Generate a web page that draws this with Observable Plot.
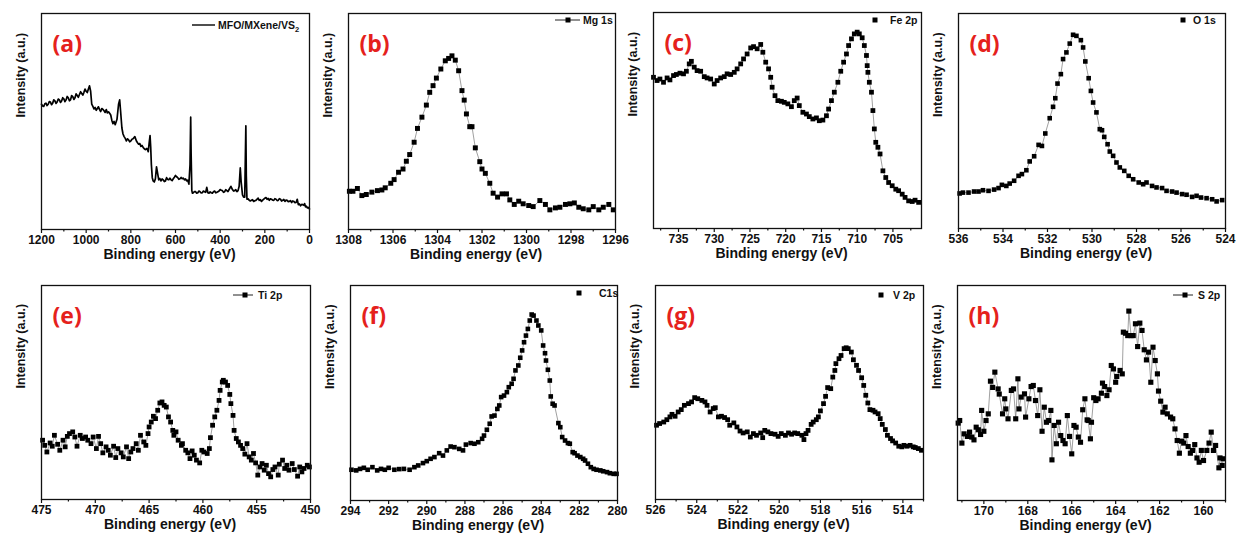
<!DOCTYPE html>
<html><head><meta charset="utf-8">
<script src="https://cdn.jsdelivr.net/npm/d3@7"></script>
<script src="https://cdn.jsdelivr.net/npm/@observablehq/plot@0.6"></script>
<style>
body{margin:0;background:#fff;}
#root{position:relative;width:1238px;height:540px;overflow:hidden;background:#fff;}
.panel{position:absolute;}
.panel svg{overflow:visible;}
</style></head><body><div id="root"></div>
<script>
// ---- data: [binding energy (eV), intensity (% of frame height)] ----
const survey = [[1200,58],[1195,57.2],[1190,57],[1185,58.2],[1180,58.5],[1175,57.4],[1170,58],[1165,59.2],[1160,59],[1155,57.8],[1150,58.5],[1145,60],[1140,59.5],[1135,58.4],[1130,59],[1125,60.4],[1120,60],[1115,58.8],[1110,59.5],[1105,61],[1100,60.5],[1095,59.2],[1090,60],[1085,61.6],[1080,61],[1075,59.6],[1070,60],[1065,62],[1060,61.5],[1055,60.2],[1050,61],[1045,62.8],[1040,62],[1035,61.2],[1030,62.5],[1025,63.8],[1020,63],[1015,62.2],[1010,63.5],[1005,65],[1000,64],[995,63.4],[990,65],[985,66.5],[980,64],[975,58],[970,57],[965,55.8],[960,56.5],[955,55.2],[950,56],[945,56.8],[940,55.5],[935,54.6],[930,56],[925,55.6],[920,55],[915,54.2],[910,55.5],[905,54],[900,54.5],[895,53.8],[890,53],[885,50.5],[880,49],[875,50],[870,48.5],[862,51],[855,58],[850,60],[846,55],[840,47],[835,44.2],[830,43],[825,42.2],[820,41],[815,42],[810,41.5],[805,40.6],[800,41],[795,41.8],[790,42],[782,43],[775,41],[770,40.2],[765,39.5],[760,39.8],[755,38.5],[750,38.9],[745,38],[740,37.4],[735,37],[728,37.5],[722,36],[718,40],[714,43.5],[711,38],[708,30],[704,24],[700,22.5],[695,22],[690,23.5],[685,29],[680,26],[675,23],[670,23.6],[665,22.5],[660,23.4],[655,23],[650,22.2],[645,22.5],[640,24],[635,23.2],[630,23],[625,23.8],[620,23],[615,22.6],[610,23.5],[605,24.2],[600,25],[595,24.4],[590,24],[585,23.2],[580,23.5],[575,24.1],[570,23.5],[565,23.8],[560,23],[555,23.4],[550,22.5],[545,22.8],[540,21],[535,30],[532,52],[530,35],[527,18],[524,16.8],[520,17],[515,17.6],[510,17.5],[505,16.8],[500,17],[495,17.8],[490,17.5],[485,16.9],[480,17],[475,17.8],[470,17.5],[465,17.2],[460,19.5],[455,17],[450,16.8],[445,17.4],[440,17],[435,16.8],[430,17.5],[425,17.8],[420,17],[415,17.2],[410,17.5],[405,17.8],[400,18.5],[395,18.2],[390,18],[385,17.2],[380,17.5],[375,18.4],[370,18],[365,17.6],[360,18.5],[352,20],[345,18.5],[340,17.8],[335,18],[330,18.4],[325,17.5],[320,18],[315,20],[310,28.5],[306,22],[300,16],[295,15],[290,15],[287,35],[285,48],[283,25],[280,14],[275,14.2],[270,13.5],[265,13.2],[260,13.5],[255,13.8],[250,13],[245,13.3],[240,13.5],[230,14.5],[225,13.5],[220,13.8],[215,13],[210,13.6],[205,14],[200,14.5],[195,14.8],[190,14],[185,14.4],[180,13.5],[175,14.2],[170,14],[165,13.6],[160,13.5],[155,14.3],[150,14],[145,13.4],[140,13.5],[135,14.3],[130,14],[125,13.2],[120,13.5],[115,13.9],[110,13],[105,13.6],[100,13.5],[95,12.9],[90,13],[85,13.4],[80,12.5],[75,13.2],[70,13],[65,12.4],[60,12.5],[55,14],[50,11.5],[45,11.8],[40,11],[35,11.6],[30,11.5],[25,11.2],[22,12],[18,10.5],[14,10.8],[10,10],[5,10.2],[0,9.5]];

const mg1s = [[1307.96,17.7],[1307.8,17.7],[1307.6,19],[1307.4,15.7],[1307.2,16.2],[1306.95,17.3],[1306.7,18],[1306.5,18.3],[1306.35,19.3],[1306.1,21.4],[1305.95,23.1],[1305.75,26.5],[1305.55,28],[1305.4,31.6],[1305.25,34.7],[1305.05,40.4],[1304.9,46.8],[1304.7,52],[1304.5,57.6],[1304.35,63.5],[1304.2,66.6],[1304.05,70.1],[1303.85,74.3],[1303.65,78.1],[1303.5,79.2],[1303.35,80.4],[1303.2,78.4],[1303.05,73.5],[1302.9,64.3],[1302.8,59.9],[1302.7,53.5],[1302.55,47.6],[1302.45,47.6],[1302.3,37.8],[1302.1,31.4],[1302,28],[1301.85,26],[1301.65,21.4],[1301.5,16.8],[1301.3,15],[1301.1,16.5],[1300.9,16.5],[1300.75,13.7],[1300.55,11.6],[1300.35,13.1],[1300.15,11.9],[1299.9,11.1],[1299.7,10.6],[1299.4,13.4],[1299.15,11.6],[1298.95,9.1],[1298.7,10],[1298.5,10.3],[1298.25,11.6],[1298.05,11.9],[1297.85,12.3],[1297.65,10.3],[1297.45,9.6],[1297.2,9.1],[1297,10.6],[1296.75,9.1],[1296.55,10.3],[1296.3,11.6],[1296.1,9.1]];

const fe2p = [[738.5,70],[738.0,68.5],[737.6,69.2],[737.1,67.7],[736.6,69.7],[736.2,68.8],[735.7,70.8],[735.3,71.3],[734.8,71.9],[734.3,71.6],[733.9,72.8],[733.5,76.2],[733.2,77.4],[732.8,74.7],[732.4,73.1],[731.9,72.8],[731.4,70.3],[731.0,69.7],[730.5,69.2],[730.0,66.9],[729.6,68.5],[729.1,69.7],[728.6,70.3],[728.2,71.6],[727.7,71.3],[727.2,72.3],[726.8,73.9],[726.3,76.2],[725.9,78.5],[725.4,80.8],[724.9,83.6],[724.5,84.2],[724.0,83.2],[723.5,85.2],[723.2,81.6],[722.8,77],[722.4,73.9],[722.1,70],[721.9,65.4],[721.5,61.5],[721.1,59.2],[720.6,58.9],[720.2,58.4],[719.7,57.7],[719.2,56.4],[718.8,59.2],[718.4,60.4],[718.1,56.9],[717.6,53.8],[717.1,53],[716.7,51.8],[716.2,50.7],[715.7,51.2],[715.3,49.9],[714.8,50.2],[714.3,52.2],[714.0,55.3],[713.6,59.2],[713.2,63.1],[712.7,67.7],[712.3,72.8],[711.9,77],[711.5,80.8],[711.2,84.7],[710.8,87.8],[710.4,90.1],[710.0,90.9],[709.7,90.1],[709.3,88.3],[709.0,84.7],[708.7,80.1],[708.6,75.4],[708.5,72.3],[708.3,67.7],[708.0,63.1],[707.8,54.6],[707.6,46.1],[707.4,39.9],[707.1,37.6],[706.8,34.5],[706.4,26.7],[706.0,23.6],[705.6,21.3],[705.1,19.8],[704.6,18.2],[704.2,17.5],[703.7,15.9],[703.3,14.4],[702.8,12.8],[702.3,12.5],[701.9,13.1],[701.4,12.1]];

const o1s = [[535.95,16.3],[535.8,16.7],[535.55,16.7],[535.3,17.2],[535.1,17.2],[534.9,17.8],[534.65,17.5],[534.4,18.1],[534.2,18.8],[534.05,20.3],[533.85,19.8],[533.7,20.9],[533.5,22.2],[533.3,24.5],[533.15,25.3],[532.95,27.1],[532.8,31.2],[532.6,33.6],[532.4,38.9],[532.25,38.4],[532.1,44.2],[531.9,51.3],[531.75,56.6],[531.65,60.6],[531.55,67.4],[531.4,71.8],[531.3,78.8],[531.15,81.9],[531.0,86],[530.85,90.1],[530.7,89.6],[530.5,87.6],[530.4,84.2],[530.3,77.7],[530.15,69.9],[530.05,64],[529.95,58.6],[529.8,54],[529.65,46.2],[529.55,45.7],[529.45,42.6],[529.3,39.2],[529.2,35.8],[529.05,33.8],[528.9,30.7],[528.75,28.4],[528.55,26.8],[528.35,24.5],[528.15,22.9],[527.9,21.4],[527.7,20.6],[527.55,21.4],[527.3,19.8],[527.1,19.1],[526.85,18.8],[526.65,17.5],[526.4,17.2],[526.2,16.7],[525.95,16],[525.75,15.7],[525.5,14.7],[525.3,15.2],[525.1,14.4],[524.85,14.1],[524.6,13.6],[524.4,12.6],[524.15,13.2]];

const ti2p = [[474.9,27.7],[474.7,25.3],[474.5,22.2],[474.2,26.4],[474.0,24.9],[473.8,30],[473.5,25.8],[473.3,23],[473.0,27.7],[472.8,24.6],[472.6,29.5],[472.4,30.8],[472.1,31.6],[471.9,29.2],[471.7,24.9],[471.4,30],[471.2,28.5],[470.9,29.2],[470.7,27.7],[470.4,26.1],[470.2,29.2],[469.9,23.8],[469.7,29.5],[469.5,26.1],[469.3,21.8],[469.0,24.6],[468.8,23],[468.6,20.7],[468.3,24.9],[468.1,19.6],[467.9,23.8],[467.6,21.8],[467.4,19.9],[467.1,24.6],[466.9,19.1],[466.7,22.2],[466.5,23.8],[466.2,26.1],[466.0,23],[465.8,30],[465.5,26.9],[465.3,25.3],[465.1,30.8],[465.0,33.9],[464.8,36.2],[464.6,38.9],[464.4,37.8],[464.2,41.7],[464.0,45.1],[463.8,45.6],[463.6,44],[463.4,43.2],[463.2,38.6],[463.0,36.2],[462.8,32.3],[462.7,30],[462.5,31.6],[462.3,27.7],[462.0,25.3],[461.9,26.1],[461.6,23],[461.4,21.8],[461.2,19.1],[461.0,22.7],[460.8,20.7],[460.6,18.4],[460.3,17.1],[460.1,23],[459.9,22.2],[459.6,21.5],[459.4,23.8],[459.3,28.9],[459.1,34.7],[458.9,38.6],[458.7,41.7],[458.5,46.3],[458.4,51],[458.2,54.9],[458.1,55.7],[457.9,54.9],[457.7,53.3],[457.5,49.1],[457.4,44.8],[457.2,39.3],[457.1,32.3],[456.9,28.5],[456.7,26.9],[456.5,25.3],[456.3,23.8],[456.1,21.2],[455.9,26.1],[455.7,19.9],[455.5,18.4],[455.3,21.5],[455.1,17.1],[454.9,11.4],[454.7,15.2],[454.5,16.8],[454.3,13.7],[454.1,16],[453.9,12.1],[453.7,10.6],[453.5,14],[453.3,15.2],[453.0,11.4],[452.9,16.5],[452.6,18.4],[452.4,14.5],[452.2,16],[452.0,13.7],[451.7,16.8],[451.5,14],[451.2,10.9],[451.0,15.2],[450.8,12.9],[450.6,14.5],[450.3,16],[450.1,15.2]];

const c1s = [[293.95,14.3],[293.7,14],[293.5,14.7],[293.3,15.2],[293.1,14.3],[292.85,15.5],[292.6,14],[292.4,14.7],[292.2,14.3],[292.0,15.2],[291.7,14.3],[291.45,14.6],[291.2,14.7],[290.9,14.3],[290.65,15.5],[290.45,16.3],[290.2,17.4],[290.0,18.3],[289.8,19.4],[289.6,20.2],[289.35,22],[289.15,20.9],[288.95,23.3],[288.75,25.1],[288.55,24.8],[288.3,24],[288.1,23.3],[287.95,26],[287.7,26.7],[287.5,26.4],[287.3,27.1],[287.1,28.7],[287.0,30.2],[286.85,32.9],[286.7,35.7],[286.6,39.1],[286.45,39.5],[286.3,42.6],[286.2,44.2],[286.1,48.1],[285.95,48.8],[285.8,50.4],[285.7,52.7],[285.55,54.3],[285.45,56.6],[285.35,60.5],[285.2,62.8],[285.1,66.4],[285.0,69.8],[284.9,73.6],[284.8,76.7],[284.7,79.8],[284.6,83.7],[284.5,86.5],[284.4,86],[284.25,83.7],[284.15,81.4],[284.0,79.1],[283.9,72.1],[283.8,68.5],[283.75,65.1],[283.65,60.8],[283.55,55.8],[283.5,48.4],[283.4,45],[283.3,44.2],[283.1,36],[283.0,34.1],[282.9,29.5],[282.75,27.9],[282.6,26.7],[282.5,26.4],[282.35,22.5],[282.25,22],[282.1,20.9],[281.95,20.2],[281.8,19.4],[281.7,18.6],[281.55,17.1],[281.4,15.5],[281.25,14.7],[281.1,14.3],[280.9,14],[280.75,13.6],[280.55,13.2],[280.4,12.7],[280.2,12.4],[280.05,12.4]];

const v2p = [[525.95,34.7],[525.8,35.5],[525.6,36.2],[525.45,37.3],[525.3,38.6],[525.2,39.8],[525.05,38.9],[524.9,40.9],[524.75,42],[524.6,44],[524.4,44.8],[524.25,45.6],[524.1,47.6],[523.95,47.1],[523.75,46.3],[523.6,45.6],[523.5,44],[523.35,40.9],[523.2,42.5],[523.1,42.9],[522.95,38.6],[522.8,38.9],[522.65,38.3],[522.5,37.3],[522.4,34.7],[522.2,35.8],[522.05,33.9],[521.9,32],[521.75,31.1],[521.55,31.6],[521.4,29.2],[521.25,30.8],[521.1,30],[520.9,31.1],[520.8,28.9],[520.7,32.3],[520.55,31.6],[520.4,30.8],[520.2,30.5],[520.05,29.5],[519.9,30.8],[519.7,30],[519.55,31.1],[519.4,30.5],[519.25,31.1],[519.1,30.8],[518.9,30],[518.8,28],[518.7,30.8],[518.6,32.3],[518.45,35.1],[518.35,36.2],[518.2,37.3],[518.1,38.6],[518.0,41.4],[517.85,44.8],[517.75,48.2],[517.65,52.3],[517.5,51.8],[517.4,57.2],[517.3,60.3],[517.25,63.5],[517.1,65.8],[517.0,67.3],[516.85,70.5],[516.75,70.9],[516.65,70.5],[516.5,68.9],[516.4,65.3],[516.25,62.7],[516.15,60.3],[516.0,56.9],[515.9,53.3],[515.8,48.7],[515.7,45.1],[515.6,42],[515.45,41.7],[515.35,40.9],[515.2,40.1],[515.1,37.8],[515.0,35.1],[514.85,32.7],[514.75,30],[514.6,28.5],[514.5,27.4],[514.35,26.4],[514.2,24.9],[514.05,24.6],[513.95,25.3],[513.8,24.9],[513.65,25.3],[513.5,24.6],[513.4,24.3],[513.25,23.8],[513.1,23]];

const s2p = [[171.17,36],[171.1,37.2],[171.0,26.7],[170.9,31],[170.75,29.8],[170.65,31.8],[170.55,29.5],[170.45,28.2],[170.35,34.1],[170.25,32.9],[170.15,30.7],[170.1,41.9],[170.0,32.2],[169.9,37.2],[169.8,40.3],[169.7,55.5],[169.6,52.6],[169.5,59.7],[169.35,51.9],[169.3,49.5],[169.15,40.3],[169.05,47.3],[169.0,42.6],[168.9,38],[168.75,51.2],[168.65,51.9],[168.55,38],[168.45,56.6],[168.4,42.6],[168.3,48.1],[168.15,49.6],[168.1,38.8],[167.95,47.3],[167.85,53],[167.75,53.5],[167.65,46.5],[167.55,39.5],[167.45,51.5],[167.35,32.2],[167.25,43.4],[167.15,36.4],[167.05,37.2],[166.95,41.9],[166.9,18.9],[166.8,34.9],[166.7,26.4],[166.6,36.4],[166.5,30.2],[166.4,27.9],[166.3,26.4],[166.2,39.5],[166.1,29.8],[166.0,21.7],[165.9,34.9],[165.8,34.1],[165.7,29.5],[165.6,27.1],[165.5,42.2],[165.4,47.3],[165.3,37.5],[165.25,37.2],[165.15,28.7],[165.1,36.4],[165.0,47.8],[164.9,46.5],[164.8,47.3],[164.65,49.9],[164.6,54.6],[164.5,53],[164.4,48.8],[164.3,51.5],[164.2,62.8],[164.1,61.2],[164.0,55],[163.95,57.7],[163.8,60.5],[163.7,58.9],[163.65,78.3],[163.55,77.8],[163.45,76.7],[163.4,88.1],[163.3,76.7],[163.2,76.7],[163.1,82.2],[163.0,71.6],[162.9,82.5],[162.8,79.1],[162.7,70.1],[162.6,65.4],[162.5,69],[162.4,55],[162.3,71.3],[162.2,65.1],[162.1,58.9],[162.05,50.9],[161.95,46.2],[161.85,41.1],[161.75,43.4],[161.65,40.3],[161.5,38.8],[161.4,38],[161.3,33.3],[161.2,27.9],[161.1,22],[161.0,27.6],[160.9,26.7],[160.8,30.2],[160.7,25.1],[160.6,22],[160.5,23.3],[160.4,26],[160.3,19.8],[160.2,17.8],[160.1,23.3],[160.0,18.6],[159.85,23.3],[159.75,26.7],[159.65,31.8],[159.55,23.3],[159.45,25.6],[159.3,15.2],[159.25,19.8],[159.15,16.3],[159.1,19.4]];

// ---- tick labels ----
const ticksA = [1200,1000,800,600,400,200,0], minorA = [1100,900,700,500,300,100];
const ticksB = [1308,1306,1304,1302,1300,1298,1296], minorB = [1307,1305,1303,1301,1299,1297];
const ticksC = [735,730,725,720,715,710,705], minorC = [737.5,732.5,727.5,722.5,717.5,712.5,707.5,702.5];
const ticksD = [536,534,532,530,528,526,524], minorD = [535,533,531,529,527,525];
const ticksE = [475,470,465,460,455,450], minorE = [472.5,467.5,462.5,457.5,452.5];
const ticksF = [294,292,290,288,286,284,282,280], minorF = [293,291,289,287,285,283,281];
const ticksG = [526,524,522,520,518,516,514], minorG = [525,523,521,519,517,515,513];
const ticksH = [170,168,166,164,162,160], minorH = [171,169,167,165,163,161,159];

const panelLabels = ["(a)","(b)","(c)","(d)","(e)","(f)","(g)","(h)"];
const legendTexts = ["MFO/MXene/VS","Mg 1s","Fe 2p","O 1s","Ti 2p","C1s","V 2p","S 2p"];

const RED = "#e5211c";
const FONT = "'Liberation Sans', Arial, sans-serif";
const ML = 45, MR = 8, MT = 12, MB = 42;

const panels = [
  {left:41, top:13, w:268, h:216, domain:[1200,0], ticks:ticksA, minor:minorA, data:survey, kind:"line",
   leg:{textStart:-91, line:[-117,-94], dy:12, sub:"2"}},
  {left:348, top:13, w:267, h:216, domain:[1308,1296], ticks:ticksB, minor:minorB, data:mg1s, r:2.8,
   leg:{textStart:-32, line:[-60,-35], square:-47, dy:7}},
  {left:653, top:12, w:268, h:216, domain:[738.5,701], ticks:ticksC, minor:minorC, data:fe2p, r:2.7,
   leg:{textStart:-31, square:-46, dy:8}},
  {left:958, top:13, w:267, h:215, domain:[536,524], ticks:ticksD, minor:minorD, data:o1s, r:2.6,
   leg:{textStart:-32, square:-42, dy:7}},
  {left:41, top:285, w:269, h:214, domain:[475,450], ticks:ticksE, minor:minorE, data:ti2p, r:2.7,
   leg:{textStart:-52, line:[-77,-57], square:-65, dy:10}},
  {left:350, top:285, w:267, h:215, domain:[294,280], ticks:ticksF, minor:minorF, data:c1s, r:2.6,
   leg:{textStart:-18, square:-38, dy:8}},
  {left:655, top:285, w:268, h:214, domain:[526,513], ticks:ticksG, minor:minorG, data:v2p, r:2.7,
   leg:{textStart:-30, square:-42, dy:10}},
  {left:957, top:285, w:268, h:215, domain:[171.2,159], ticks:ticksH, minor:minorH, data:s2p, r:2.9,
   leg:{textStart:-27, line:[-52,-32], square:-40, dy:10}}
];

function legendMark(spec, text) {
  return (index, scales, values, dims) => {
    const g = d3.create("svg:g");
    const xr = dims.width - dims.marginRight;
    const yc = dims.marginTop + spec.dy;
    if (spec.line) g.append("line").attr("x1", xr + spec.line[0]).attr("x2", xr + spec.line[1])
      .attr("y1", yc).attr("y2", yc).attr("stroke", "#222").attr("stroke-width", spec.square == null ? 1.6 : 1);
    if (spec.square != null) g.append("rect").attr("x", xr + spec.square - 2.5).attr("y", yc - 2.5)
      .attr("width", 5).attr("height", 5).attr("fill", "black");
    const t = g.append("text").attr("x", xr + spec.textStart).attr("y", yc).attr("dy", "0.35em")
      .attr("text-anchor", "start")
      .attr("font-size", 10.5).attr("font-weight", "bold").attr("font-family", FONT).attr("fill", "#111");
    t.append("tspan").text(text);
    if (spec.sub) t.append("tspan").attr("font-size", 7.5).attr("dy", 3).text(spec.sub);
    return g.node();
  };
}

const root = document.getElementById("root");
panels.forEach((p, i) => {
  const dataMarks = p.kind === "line"
    ? [Plot.line(p.data, {x: d => d[0], y: d => d[1], stroke: "black", strokeWidth: 1.7})]
    : [Plot.line(p.data, {x: d => d[0], y: d => d[1], stroke: "#777", strokeWidth: 0.7}),
       Plot.dot(p.data, {x: d => d[0], y: d => d[1], symbol: "square", r: p.r, fill: "black", stroke: "none"})];
  const chart = Plot.plot({
    width: p.w + ML + MR, height: p.h + MT + MB,
    marginLeft: ML, marginRight: MR, marginTop: MT, marginBottom: MB,
    style: {fontFamily: FONT, fontWeight: "bold", color: "#111", background: "transparent", overflow: "visible"},
    x: {domain: p.domain},
    y: {domain: [0, 100], axis: null},
    marks: [
      ...dataMarks,
      Plot.frame({stroke: "#111", strokeWidth: 1.3}),
      Plot.axisX({ticks: p.ticks, tickSize: 4, tickPadding: 2, tickFormat: d => String(d), fontSize: 12, fontWeight: "bold", strokeWidth: 1.2, label: null}),
      Plot.axisX({ticks: p.minor, tickSize: 2.5, tickFormat: () => "", strokeWidth: 1.2, label: null}),
      Plot.text(["Binding energy (eV)"], {frameAnchor: "bottom", dx: -6, dy: 29, fontSize: 14, fontWeight: "bold", fill: "#111"}),
      Plot.text(["Intensity (a.u.)"], {frameAnchor: "left", rotate: -90, dx: -21, dy: -4, fontSize: 12.5, fontWeight: "bold", fill: "#111"}),
      Plot.text([panelLabels[i]], {frameAnchor: "top-left", textAnchor: "start", dx: 11, dy: 22, fontSize: 23, fontWeight: "bold", fontFamily: "'Open Sans', sans-serif", fill: RED}),
      legendMark(p.leg, legendTexts[i])
    ]
  });
  const div = document.createElement("div");
  div.className = "panel";
  div.style.left = (p.left - ML) + "px";
  div.style.top = (p.top - MT) + "px";
  div.appendChild(chart);
  root.appendChild(div);
});
</script></body></html>
